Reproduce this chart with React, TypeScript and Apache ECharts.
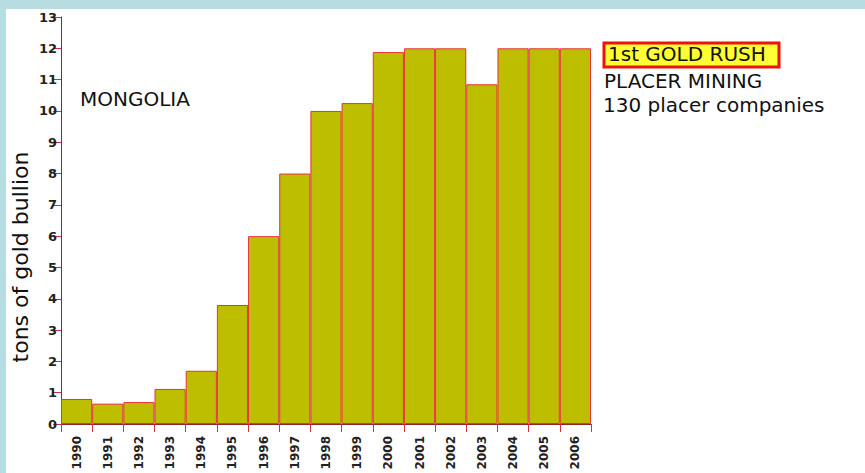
import React, { useEffect, useRef } from "react";
import * as echarts from "echarts";

const years = ["1990","1991","1992","1993","1994","1995","1996","1997","1998","1999","2000","2001","2002","2003","2004","2005","2006"];
const tons = [0.8, 0.65, 0.7, 1.12, 1.7, 3.8, 6.0, 8.0, 10.0, 10.25, 11.88, 12.0, 12.0, 10.85, 12.0, 12.0, 12.0];
const yTicks = { min: 0, max: 13, interval: 1 };

const FONT = "'DejaVu Sans', Verdana, sans-serif";

export default function App() {
  const ref = useRef<HTMLDivElement>(null);
  useEffect(() => {
    document.body.style.margin = "0";
    const chart = echarts.init(ref.current!, null, { renderer: "svg" });
    chart.setOption({
      animation: false,
      backgroundColor: "#b7dce2",
      grid: { left: 61, top: 17, right: 274, bottom: 49, containLabel: false },
      graphic: [
        { type: "rect", z: -10, silent: true, shape: { x: 6, y: 9, width: 859, height: 464 }, style: { fill: "#ffffff" } },
        { type: "text", x: 20, y: 257, rotation: Math.PI / 2, style: { text: "tons of gold bullion", font: "22px " + FONT, fill: "#111", align: "center", verticalAlign: "middle" } },
        { type: "text", left: 80, top: 89, style: { text: "MONGOLIA", font: "20px " + FONT, fill: "#111" } },
        { type: "rect", shape: { x: 604, y: 43, width: 175, height: 24 }, style: { fill: "#ffff33", stroke: "#ee1111", lineWidth: 3 } },
        { type: "text", left: 608, top: 44, style: { text: "1st GOLD RUSH", font: "20px " + FONT, fill: "#111" } },
        { type: "text", left: 604, top: 71, style: { text: "PLACER MINING", font: "20px " + FONT, fill: "#111" } },
        { type: "text", left: 603, top: 95, style: { text: "130 placer companies", font: "20px " + FONT, fill: "#111" } },
      ],
      xAxis: {
        type: "category",
        data: years,
        boundaryGap: true,
        axisLine: { lineStyle: { color: "#9a1f2e", width: 1 } },
        axisTick: { show: true, length: 8, lineStyle: { color: "#d03040" } },
        axisLabel: { rotate: 90, margin: 12, fontFamily: FONT, fontSize: 12, fontWeight: "bold", color: "#222", interval: 0 },
        splitLine: { show: false },
      },
      yAxis: {
        type: "value",
        min: yTicks.min,
        max: yTicks.max,
        interval: yTicks.interval,
        axisLine: { show: true, lineStyle: { color: "#9a1f2e", width: 1 } },
        axisTick: { show: true, length: 8, lineStyle: { color: "#d03040" } },
        axisLabel: { margin: 4, fontFamily: FONT, fontSize: 13, fontWeight: "bold", color: "#222" },
        splitLine: { show: false },
      },
      series: [
        {
          type: "bar",
          data: tons,
          barWidth: "100%",
          barCategoryGap: 0,
          itemStyle: { color: "#bebe00", borderColor: "#e8303a", borderWidth: 1 },
        },
      ],
    });
    return () => chart.dispose();
  }, []);
  return <div ref={ref} style={{ width: 865, height: 473, position: "absolute", left: 0, top: 0 }} />;
}
